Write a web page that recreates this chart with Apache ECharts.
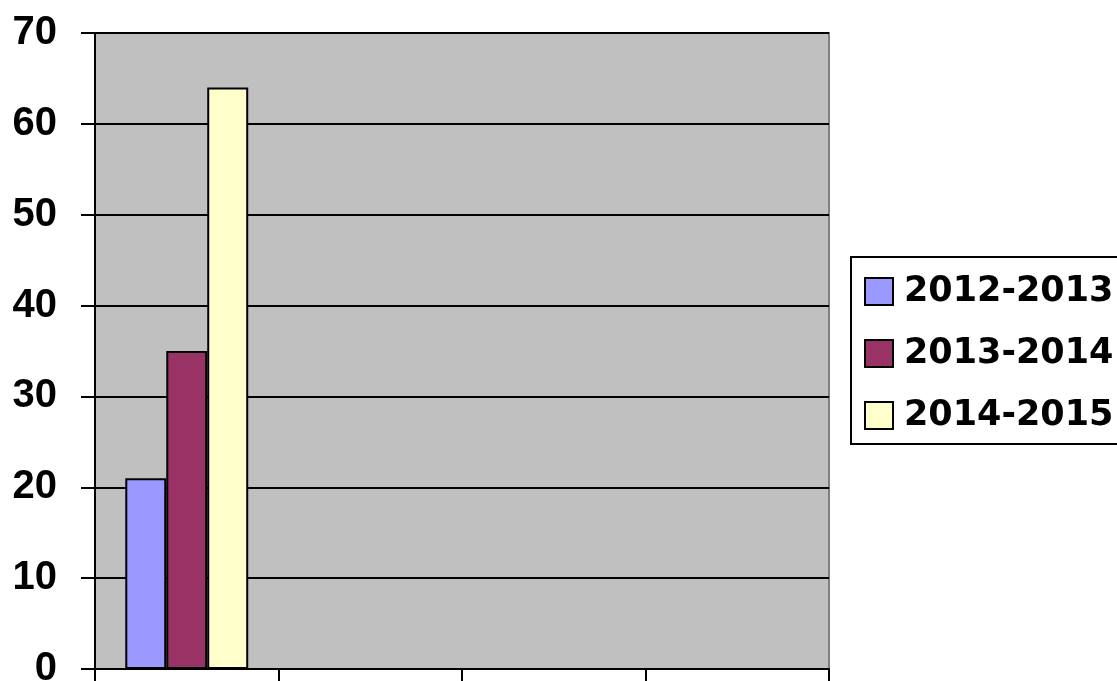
<!DOCTYPE html>
<html>
<head>
<meta charset="utf-8">
<script src="https://cdn.jsdelivr.net/npm/echarts@6/dist/echarts.min.js"></script>
<style>
  html, body { margin: 0; padding: 0; background: #fff; }
  #chart { width: 1117px; height: 681px; }
</style>
</head>
<body>
<div id="chart"></div>
<script>
// data
const categories = ['1', '2', '3', '4'];
const seriesNames = ['2012-2013', '2013-2014', '2014-2015'];
const values2012 = [21, null, null, null];
const values2013 = [35, null, null, null];
const values2014 = [64, null, null, null];
const yTicks = { min: 0, max: 70, interval: 10 };

const colors = ['#9999FF', '#993366', '#FFFFCC'];
const allValues = [values2012, values2013, values2014];

let myChart = echarts.init(document.getElementById('chart'));
let option = {
  animation: false,
  legend: {
    left: 851,
    top: 257,
    orient: 'vertical',
    padding: [17, 40, 11, 13], // right side runs off the canvas like the original
    itemGap: 27,
    itemWidth: 28,
    itemHeight: 27,
    borderColor: '#000',
    borderWidth: 2,
    icon: 'rect',
    textStyle: {
      fontFamily: 'DejaVu Sans',
      fontWeight: 'bold',
      fontSize: 35,
      color: '#000',
      padding: [0, 0, 0, 6],
    },
    data: seriesNames,
  },
  grid: {
    left: 95,
    right: 288,
    top: 33,
    bottom: 12,
    outerBoundsMode: 'none',
    show: true,
    backgroundColor: '#C0C0C0',
    borderColor: '#808080',
    borderWidth: 2,
  },
  xAxis: {
    type: 'category',
    data: categories,
    axisLine: { lineStyle: { color: '#000', width: 2 } },
    axisTick: { show: true, length: 14, lineStyle: { color: '#000', width: 2 } },
    axisLabel: { show: false },
  },
  yAxis: {
    type: 'value',
    min: yTicks.min,
    max: yTicks.max,
    interval: yTicks.interval,
    axisLine: { show: true, lineStyle: { color: '#000', width: 2 } },
    axisTick: { show: true, length: 14, lineStyle: { color: '#000', width: 2 } },
    axisLabel: {
      margin: 38,
      fontFamily: 'Liberation Sans',
      fontWeight: 'bold',
      fontSize: 40,
      color: '#000',
    },
    splitLine: { show: true, lineStyle: { color: '#000', width: 2 } },
  },
  series: seriesNames.map((name, i) => ({
    name: name,
    type: 'bar',
    data: allValues[i],
    barGap: '0%',
    barCategoryGap: '33%',
    itemStyle: {
      color: colors[i],
      borderColor: '#000',
      borderWidth: 2,
    },
  })),
};
myChart.setOption(option, true);
</script>
</body>
</html>
